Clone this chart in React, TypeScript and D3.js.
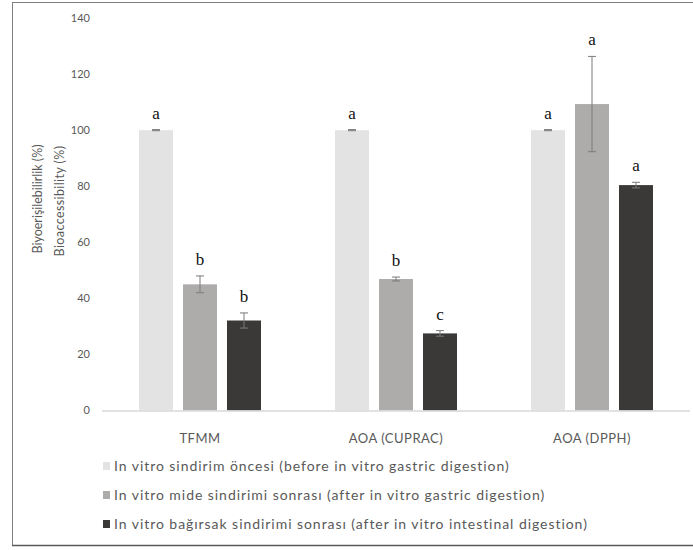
import React from "react";
import * as d3 from "d3";

const categories = ["TFMM", "AOA (CUPRAC)", "AOA (DPPH)"];
const seriesNames = [
  "In vitro sindirim öncesi (before in vitro gastric digestion)",
  "In vitro mide sindirimi sonrası (after in vitro gastric digestion)",
  "In vitro bağırsak sindirimi sonrası (after in vitro intestinal digestion)"
];
const seriesColors = ["#e3e3e3", "#aeabab", "#3b3938"];
// values per series, in category order
const before = [100, 100, 100];
const gastric = [45, 46.9, 109.3];
const intestinal = [32.1, 27.5, 80.4];
const beforeErr = [0.2, 0.2, 0.2];
const gastricErr = [3, 0.7, 17];
const intestinalErr = [2.7, 1, 1];
const beforeLetters = ["a", "a", "a"];
const gastricLetters = ["b", "b", "a"];
const intestinalLetters = ["b", "c", "a"];
const yTicks = [0, 20, 40, 60, 80, 100, 120, 140];

const W = 693;
const H = 550;
const sans = "Lato, 'Open Sans', sans-serif";

export default function App() {
  const values = [before, gastric, intestinal];
  const errs = [beforeErr, gastricErr, intestinalErr];
  const letters = [beforeLetters, gastricLetters, intestinalLetters];

  const x = d3.scaleBand<string>().domain(categories).range([102, 690]);
  const y = d3.scaleLinear().domain([0, 140]).range([410.5, 18]);
  const inner = d3
    .scaleBand<number>()
    .domain([0, 1, 2])
    .range([-61, 61])
    .paddingInner(0.227)
    .paddingOuter(0);
  const bw = inner.bandwidth();

  return (
    <svg
      width={W}
      height={H}
      style={{ position: "absolute", left: 0, top: 0, background: "#fff" }}
    >
      {/* frame */}
      <line x1={12} y1={2.5} x2={693} y2={2.5} stroke="#7f7f7f" />
      <line x1={12.5} y1={2} x2={12.5} y2={546} stroke="#7f7f7f" />
      <line x1={12} y1={545.5} x2={693} y2={545.5} stroke="#595959" strokeWidth={1.5} />

      {/* y ticks */}
      {yTicks.map(t => (
        <text
          key={t}
          x={90}
          y={y(t)}
          dy="0.35em"
          textAnchor="end"
          fontFamily={sans}
          fontSize={11}
          fill="#595959"
        >
          {t}
        </text>
      ))}

      {/* y title */}
      <g transform={`translate(42,199) rotate(-90)`}>
        <text textAnchor="middle" fontFamily={sans} fontSize={12.5} fill="#595959">
          Biyoerişilebilirlik (%)
        </text>
      </g>
      <g transform={`translate(64,201) rotate(-90)`}>
        <text textAnchor="middle" fontFamily={sans} fontSize={12.5} fill="#595959" letterSpacing={0.4}>
          Bioaccessibility (%)
        </text>
      </g>

      {/* bars */}
      {values.map((vals, s) =>
        categories.map((c, i) => {
          const cx = (x(c) as number) + x.bandwidth() / 2;
          const bx = cx + (inner(s) as number);
          const mid = bx + bw / 2;
          const v = vals[i];
          const e = errs[s][i];
          return (
            <g key={`${s}-${i}`}>
              <rect
                x={bx}
                y={y(v)}
                width={bw}
                height={y(0) - y(v)}
                fill={seriesColors[s]}
              />
              <g stroke="#7a7a7a" strokeWidth={1}>
                <line x1={mid} x2={mid} y1={y(v + e)} y2={y(v - e)} />
                <line x1={mid - 4} x2={mid + 4} y1={y(v + e)} y2={y(v + e)} />
                <line x1={mid - 4} x2={mid + 4} y1={y(v - e)} y2={y(v - e)} />
              </g>
              <text
                x={mid}
                y={y(v + e) - 11}
                textAnchor="middle"
                fontFamily="'Liberation Serif', 'DejaVu Serif', serif"
                fontSize={17}
                fill="#111"
              >
                {letters[s][i]}
              </text>
            </g>
          );
        })
      )}

      {/* x axis */}
      <line x1={102} x2={690} y1={411} y2={411} stroke="#d9d9d9" strokeWidth={1.5} />
      {categories.map(c => (
        <text
          key={c}
          x={(x(c) as number) + x.bandwidth() / 2}
          y={443}
          textAnchor="middle"
          fontFamily={sans}
          fontSize={13}
          fill="#595959"
          letterSpacing={0.5}
        >
          {c}
        </text>
      ))}

      {/* legend */}
      {seriesNames.map((n, s) => (
        <g key={n} transform={`translate(103,${466 + s * 29})`}>
          <rect x={0} y={-4} width={7} height={8} fill={seriesColors[s]} />
          <text
            x={11}
            y={0}
            dy="0.35em"
            fontFamily={sans}
            fontSize={14}
            fill="#595959"
            letterSpacing={0.95}
          >
            {n}
          </text>
        </g>
      ))}
    </svg>
  );
}
